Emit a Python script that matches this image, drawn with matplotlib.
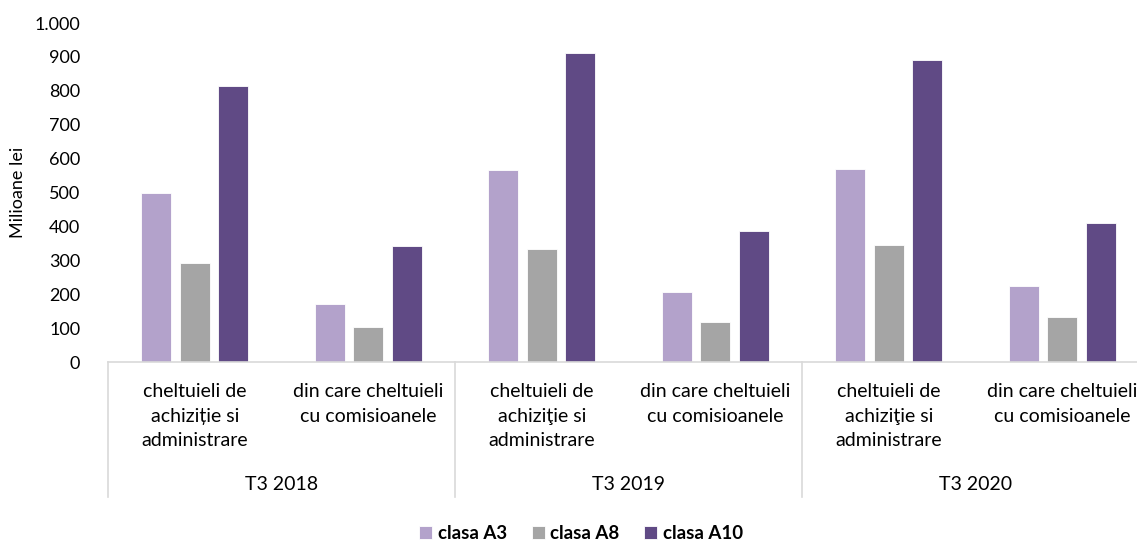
import numpy as np
import matplotlib.pyplot as plt
from matplotlib.ticker import FuncFormatter, MultipleLocator
from matplotlib.lines import Line2D

plt.rcParams['font.family'] = ['Lato', 'DejaVu Sans']

# date
years = ['T3 2018', 'T3 2019', 'T3 2020']
categories = ['cheltuieli de\nachiziție si\nadministrare', 'din care cheltuieli\ncu comisioanele',
              'cheltuieli de\nachiziţie si\nadministrare', 'din care cheltuieli\ncu comisioanele',
              'cheltuieli de\nachiziţie si\nadministrare', 'din care cheltuieli\ncu comisioanele']
series_names = ['clasa A3', 'clasa A8', 'clasa A10']
clasa_a3 = [499, 170, 565, 206, 568, 224]
clasa_a8 = [291, 102, 334, 118, 344, 134]
clasa_a10 = [814, 341, 911, 386, 890, 410]
culori = ['#B3A2CB', '#A5A5A5', '#604A85']

fig = plt.figure(figsize=(11.37, 5.40), dpi=100)
ax = fig.add_axes([0.095, 0.3296, 0.9156, 0.6278])

x = np.arange(len(categories))
latime = 0.173
pas = 0.222
for i, (vals, nume) in enumerate(zip([clasa_a3, clasa_a8, clasa_a10], series_names)):
    ax.bar(x + (i - 1) * pas, vals, width=latime, color=culori[i], label=nume,
           edgecolor='white', linewidth=0.6)

ax.set_xlim(-0.5, len(categories) - 0.5)
ax.set_ylim(0, 1000)
ax.yaxis.set_major_locator(MultipleLocator(100))
ax.yaxis.set_major_formatter(FuncFormatter(lambda v, p: f'{int(v):,}'.replace(',', '.')))
ax.set_ylabel('Milioane lei', fontsize=13, labelpad=6)

for s in ['top', 'right', 'left']:
    ax.spines[s].set_visible(False)
ax.spines['bottom'].set_color('#D9D9D9')
ax.spines['bottom'].set_linewidth(1.2)

ax.tick_params(axis='y', length=0, labelsize=13, pad=20)
ax.set_xticks(x)
ax.set_xticklabels(categories, fontsize=14, linespacing=1.55)
ax.tick_params(axis='x', length=0, pad=15)

# separatoare intre ani si etichetele anilor
trans = ax.get_xaxis_transform()
for xs in [-0.5, 1.5, 3.5, 5.5]:
    ax.add_line(Line2D([xs, xs], [0, -0.398], transform=trans, color='#D9D9D9',
                       linewidth=1.2, clip_on=False))
for j, an in enumerate(years):
    ax.text(2 * j + 0.5, -0.36, an, transform=trans, ha='center', va='center', fontsize=14)

leg = fig.legend(loc='lower center', bbox_to_anchor=(0.511, -0.035), ncol=3, frameon=False,
                 handlelength=0.7, handleheight=0.7, handletextpad=0.3, columnspacing=1.3,
                 prop={'weight': 'bold', 'size': 13.5})

fig.savefig('out.png', dpi=100)
